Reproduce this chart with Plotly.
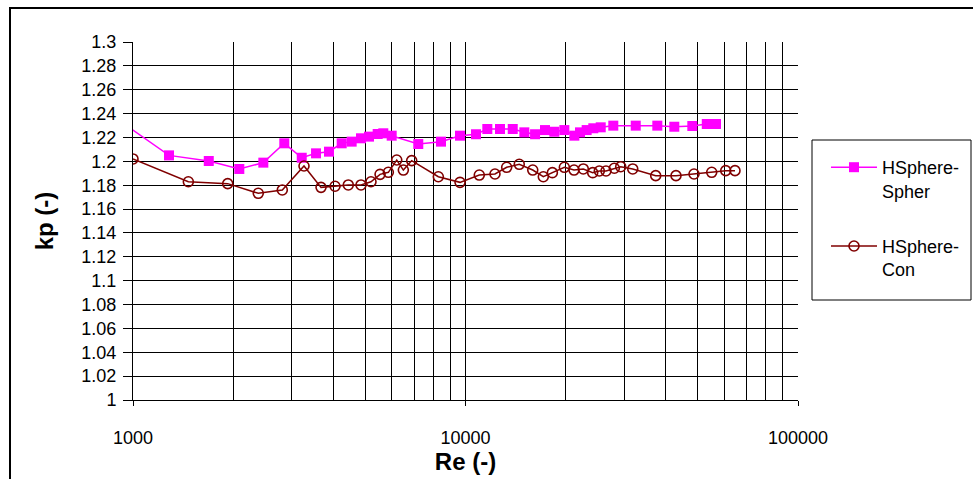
import plotly.graph_objects as go

# Pressure coefficient kp versus Reynolds number for two hemisphere set-ups
re_spher = [952, 1283, 1690, 2088, 2466, 2851, 3217, 3552, 3886, 4243, 4546, 4850,
            5126, 5443, 5660, 5998, 7211, 8440, 9627, 10755, 11631, 12700, 13870,
            15030, 16190, 17340, 18500, 19830, 21250, 22100, 23140, 24230, 25510,
            27830, 32510, 37750, 42460, 48100, 53170, 56670]
kp_spher = [1.2304, 1.2050, 1.2003, 1.1936, 1.1989, 1.2151, 1.2030, 1.2067, 1.2081,
            1.2151, 1.2165, 1.2193, 1.2207, 1.2229, 1.2235, 1.2215, 1.2145, 1.2165,
            1.2215, 1.2227, 1.2271, 1.2271, 1.2271, 1.2243, 1.2227, 1.2262, 1.2248,
            1.2262, 1.2215, 1.2243, 1.2262, 1.2277, 1.2285, 1.2299, 1.2299, 1.2299,
            1.2290, 1.2296, 1.2313, 1.2313]

re_con = [1000, 1467, 1927, 2381, 2812, 3268, 3677, 4051, 4441, 4850, 5197, 5534,
          5860, 6212, 6502, 6889, 8285, 9627, 11003, 12265, 13300, 14510, 15930,
          17140, 18250, 19830, 21200, 22610, 24130, 25260, 26460, 28030, 29300,
          31840, 37330, 42960, 48670, 55020, 60620, 64640]
kp_con = [1.2020, 1.1829, 1.1813, 1.1732, 1.1760, 1.1961, 1.1782, 1.1791, 1.1802,
          1.1802, 1.1829, 1.1891, 1.1908, 1.2011, 1.1927, 1.2006, 1.1871, 1.1824,
          1.1885, 1.1894, 1.1950, 1.1975, 1.1927, 1.1871, 1.1905, 1.1950, 1.1927,
          1.1936, 1.1905, 1.1919, 1.1919, 1.1942, 1.1955, 1.1936, 1.1880, 1.1880,
          1.1894, 1.1908, 1.1922, 1.1922]

series_names = ["HSphere-<br>Spher", "HSphere-<br>Con"]

x_major = [1000, 10000, 100000]
x_major_text = ["1000", "10000", "100000"]
x_minor = [m * d for d in (1000, 10000) for m in range(2, 10)]
y_ticks = [1 + 0.02 * i for i in range(16)]
y_tick_text = ["1", "1.02", "1.04", "1.06", "1.08", "1.1", "1.12", "1.14", "1.16",
               "1.18", "1.2", "1.22", "1.24", "1.26", "1.28", "1.3"]

FONT = "Liberation Sans, Arial, sans-serif"

fig = go.Figure()
fig.add_trace(go.Scatter(
    x=re_spher, y=kp_spher, name=series_names[0], mode="lines+markers",
    line=dict(color="#FF00FF", width=1.5),
    marker=dict(symbol="square", size=10, color="#FF00FF"),
    legendgroup="a",
))
fig.add_trace(go.Scatter(
    x=re_con, y=kp_con, name=series_names[1], mode="lines+markers",
    line=dict(color="#800000", width=1.5),
    marker=dict(symbol="circle-open", size=10, color="#800000",
                line=dict(width=1.6, color="#800000")),
    legendgroup="b",
))

W, H = 973, 479
L, R, T, B = 133, 175, 42, 79
pw, ph = W - L - R, H - T - B


def px_x(p):
    return (p - L) / pw


def px_y(p):
    return (H - B - p) / ph


fig.update_layout(
    width=W, height=H,
    margin=dict(l=L, r=R, t=T, b=B, autoexpand=False),
    paper_bgcolor="white", plot_bgcolor="white",
    font=dict(family=FONT, size=18, color="black"),
    showlegend=True,
    legend=dict(
        x=px_x(826), y=px_y(149), xanchor="left", yanchor="top",
        bgcolor="rgba(0,0,0,0)", borderwidth=0,
        font=dict(family=FONT, size=18, color="black"),
        tracegroupgap=29, valign="top", traceorder="grouped",
        itemwidth=46,
    ),
    xaxis=dict(
        type="log", range=[3, 5],
        tickvals=x_major, ticktext=x_major_text,
        ticks="outside", ticklen=5, tickcolor="black",
        showline=True, linecolor="black", linewidth=1,
        showgrid=True, gridcolor="black", gridwidth=1,
        minor=dict(tickvals=x_minor, showgrid=True, gridcolor="black",
                   gridwidth=1, ticks=""),
        ticklabelstandoff=16,
        title=dict(text="<b>Re (-)</b>", font=dict(family=FONT, size=24),
                   standoff=6),
        zeroline=False, automargin=False,
    ),
    yaxis=dict(
        range=[1, 1.3],
        tickvals=y_ticks, ticktext=y_tick_text,
        ticks="outside", ticklen=9, tickcolor="black",
        showline=True, linecolor="black", linewidth=1,
        showgrid=True, gridcolor="black", gridwidth=1,
        ticklabelstandoff=3,
        title=dict(text="<b>kp (-)</b>", font=dict(family=FONT, size=24),
                   standoff=20),
        zeroline=False, automargin=False,
    ),
    shapes=[
        # chart frame
        dict(type="rect", xref="paper", yref="paper",
             x0=px_x(10), x1=px_x(990), y0=px_y(8), y1=px_y(495),
             line=dict(color="black", width=2), fillcolor="rgba(0,0,0,0)",
             layer="above"),
        # legend frame
        dict(type="rect", xref="paper", yref="paper",
             x0=px_x(812), x1=px_x(971), y0=px_y(140), y1=px_y(300),
             line=dict(color="black", width=1), fillcolor="rgba(0,0,0,0)",
             layer="above"),
    ],
)

fig.write_html("out.html")
